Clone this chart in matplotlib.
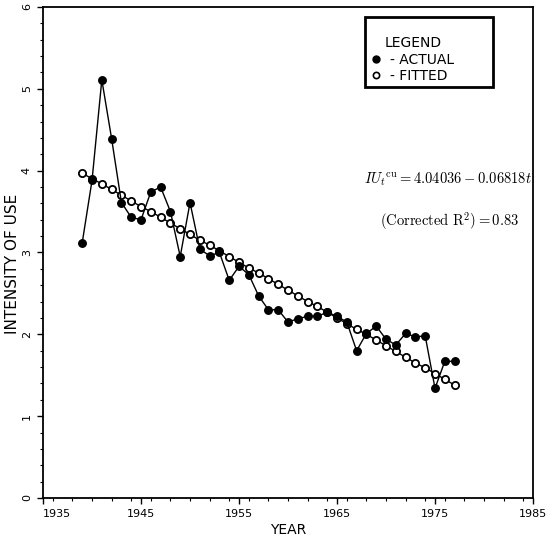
import matplotlib
matplotlib.use("Agg")
import matplotlib.pyplot as plt
from matplotlib.lines import Line2D
from matplotlib.patches import Rectangle
from matplotlib.ticker import MultipleLocator

# --- data ---
years = list(range(1939, 1978))
actual = [3.12, 3.88, 5.11, 4.39, 3.61, 3.43, 3.40, 3.74, 3.80, 3.50,
          2.95, 3.61, 3.04, 2.96, 3.00, 2.66, 2.83, 2.73, 2.47, 2.30,
          2.30, 2.15, 2.19, 2.22, 2.22, 2.27, 2.22, 2.15, 1.80, 2.01,
          2.10, 1.94, 1.87, 2.01, 1.97, 1.98, 1.34, 1.67, 1.67]
fitted = [3.97, 3.90, 3.84, 3.77, 3.70, 3.63, 3.56, 3.50, 3.43, 3.36,
          3.29, 3.22, 3.15, 3.09, 3.02, 2.95, 2.88, 2.81, 2.75, 2.68,
          2.61, 2.54, 2.47, 2.40, 2.34, 2.27, 2.20, 2.13, 2.06, 2.00,
          1.93, 1.86, 1.79, 1.72, 1.65, 1.59, 1.52, 1.45, 1.38]
xticks = [1935, 1945, 1955, 1965, 1975, 1985]
yticks = [0, 1, 2, 3, 4, 5, 6]

NARROW = ["Liberation Sans Narrow", "DejaVu Sans"]
plt.rcParams["mathtext.fontset"] = "cm"

fig = plt.figure(figsize=(5.46, 5.40), dpi=100)
ax = fig.add_axes([0.0788, 0.0778, 0.8974, 0.9093])

ax.plot(years, fitted, color="black", lw=1.0, marker="o", ms=5.2,
        mfc="white", mec="black", mew=1.3, zorder=3)
ax.plot(years, actual, color="black", lw=1.0, marker="o", ms=5.4,
        mfc="black", mec="black", zorder=4)

ax.set_xlim(1935, 1985)
ax.set_ylim(0, 6)
ax.set_xticks(xticks)
ax.set_yticks(yticks)
ax.xaxis.set_minor_locator(MultipleLocator(2))
ax.yaxis.set_minor_locator(MultipleLocator(0.2))
ax.tick_params(which="major", direction="out", length=4, width=1,
               labelsize=8, pad=4)
ax.tick_params(which="minor", direction="out", length=2.5, width=0.8)
for lab in ax.get_yticklabels():
    lab.set_rotation(90)
    lab.set_va("center")
ax.get_xticklabels()[0].set_ha("left")

for sp in ax.spines.values():
    sp.set_linewidth(1.3)

ax.set_xlabel("YEAR", fontsize=10, labelpad=3)
ax.set_ylabel("INTENSITY OF USE", fontsize=11)
ax.yaxis.set_label_coords(-0.046, 0.477)

ax.text(1976.3, 3.89, r"$IU_t{}^{\mathrm{cu}} = 4.04036 - 0.06818t$",
        fontsize=10.5, ha="center", va="center")
ax.text(1976.5, 3.37, r"$\mathrm{(Corrected\ R^2) = 0.83}$",
        fontsize=10.5, ha="center", va="center")

# legend box drawn separately, entries via legend
ax.add_patch(Rectangle((0.657, 0.837), 0.261, 0.143, transform=ax.transAxes,
                       fill=True, facecolor="white", edgecolor="black",
                       lw=2, zorder=5))
handles = [
    Line2D([], [], ls="none", marker="o", ms=5, mfc="black", mec="black"),
    Line2D([], [], ls="none", marker="o", ms=4.5, mfc="white", mec="black",
           mew=1.2),
]
leg = ax.legend(handles, ["- ACTUAL", "- FITTED"], title="LEGEND",
                loc="upper left", bbox_to_anchor=(0.672, 0.94),
                prop={"family": NARROW, "size": 10},
                frameon=False, borderpad=0, handlelength=0.6,
                handletextpad=0.7, labelspacing=0.15, borderaxespad=0)
leg.get_title().set_fontfamily(NARROW)
leg.get_title().set_fontsize(10)
leg.set_zorder(6)

fig.savefig("out.png", dpi=100)
